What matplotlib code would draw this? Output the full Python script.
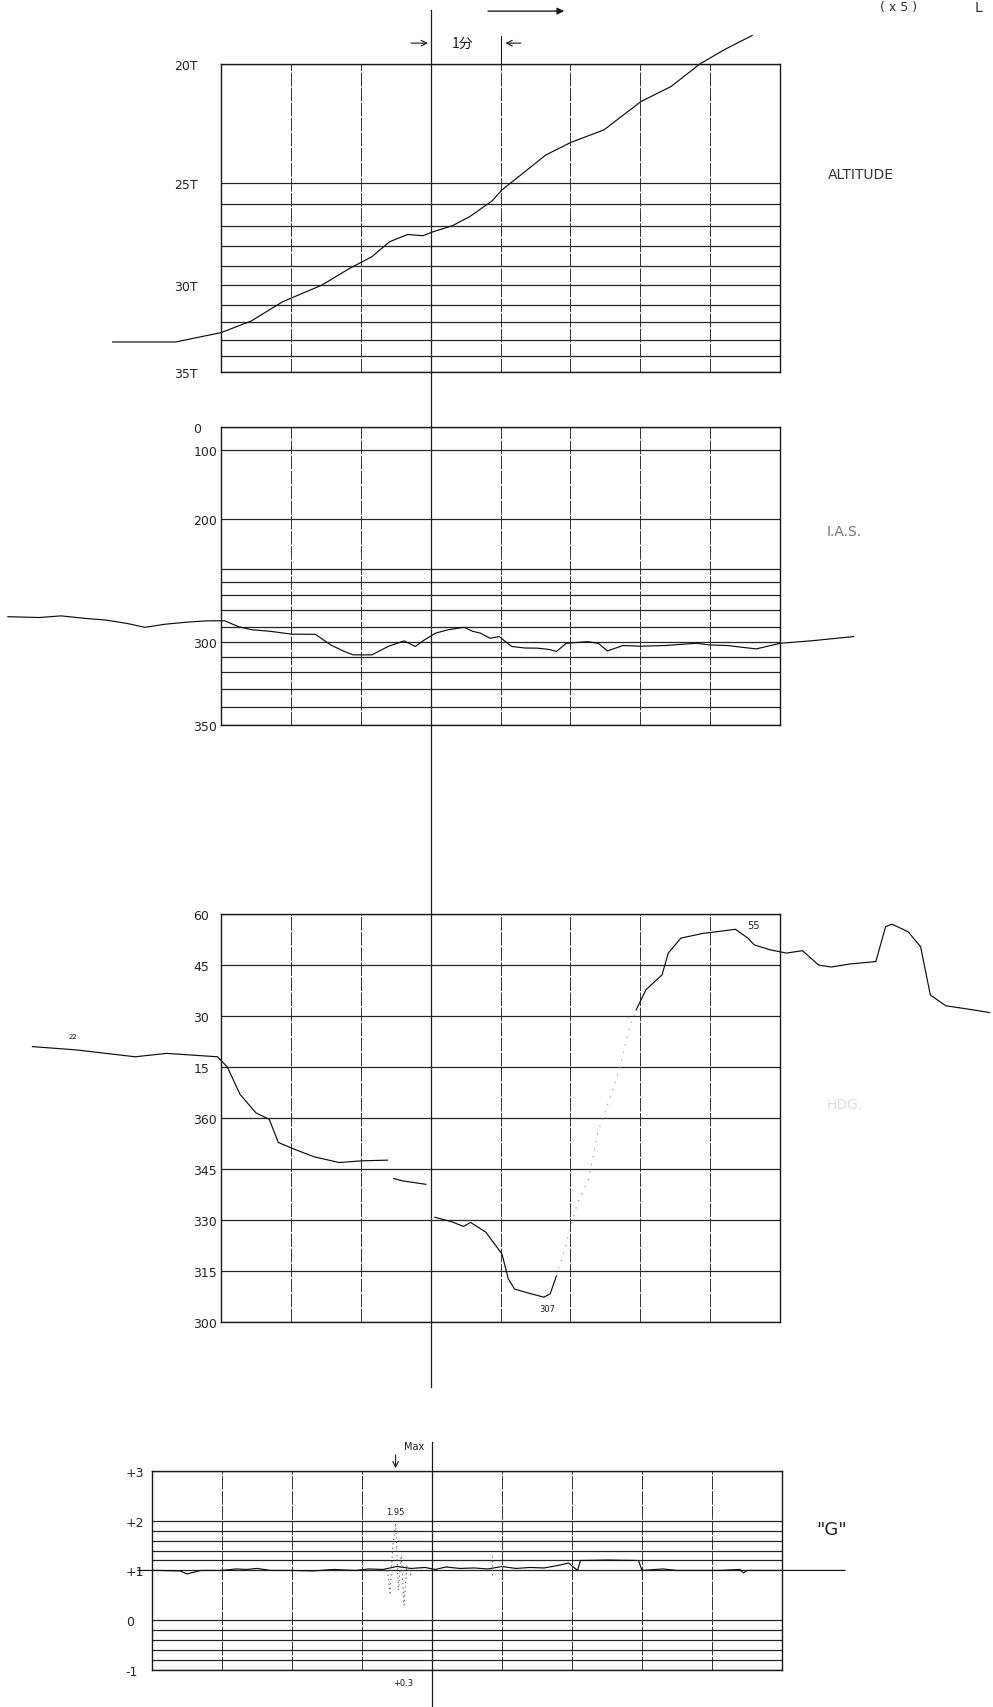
import numpy as np
import matplotlib.pyplot as plt
from matplotlib.ticker import NullLocator

plt.rcParams['font.family'] = ['DejaVu Sans', 'Noto Sans CJK JP']

# time axis: minutes, one grid column = 1 min, centre mark at t = 3

# altitude trace (thousand ft)
alt_t = [-1.55, -0.65, 0.0, 0.43, 0.88, 1.44, 1.84, 2.16, 2.41, 2.67, 2.89,
         3.03, 3.31, 3.56, 3.88, 4.02, 4.23, 4.65, 5.01, 5.48, 6.01, 6.44,
         6.85, 7.2, 7.6]
alt_v = [33.14, 33.14, 32.59, 31.92, 30.83, 30.0, 29.12, 28.53, 27.79, 27.43,
         27.49, 27.3, 27.0, 26.58, 25.85, 25.32, 24.79, 23.81, 23.28, 22.76,
         21.57, 20.94, 20.0, 19.4, 18.8]
alt_grid = [20, 25, 26, 27, 28, 29, 30, 31, 32, 33, 34, 35]
alt_labels = ['20T', '25T', '', '', '', '', '30T', '', '', '', '', '35T']
# recorder paper scale (distance from top, fraction of panel)
alt_pos = [0, .387, .454, .525, .591, .656, .718, .783, .839, .895, .948, 1.0]

# indicated airspeed (kt)
ias_t = [-3.05, -2.6, -2.29, -1.95, -1.65, -1.35, -1.09, -0.8, -0.47, -0.2,
         0.05, 0.25, 0.44, 0.7, 1.01, 1.35, 1.57, 1.75, 1.89, 2.16, 2.39,
         2.62, 2.78, 2.9, 3.07, 3.25, 3.48, 3.6, 3.71, 3.85, 3.98, 4.16, 4.35,
         4.53, 4.7, 4.8, 4.94, 5.25, 5.4, 5.53, 5.75, 6.0, 6.35, 6.8, 7.0,
         7.25, 7.45, 7.66, 8.0, 8.44, 9.05]
ias_v = [284, 284.5, 283.5, 285, 286, 288, 290.4, 288.5, 287.2, 286.5, 286.4,
         290, 292, 293, 294.9, 295, 302, 306, 308.5, 308.5, 303, 299.3, 303,
         299, 294.2, 292, 290.4, 293, 294.2, 297.6, 296.5, 303, 304, 304.1,
         305, 306.3, 300.9, 299.8, 301, 305.9, 302.4, 302.8, 302.4, 300.9,
         302, 302.4, 303.5, 304.6, 300.9, 299.3, 296.5]
ias_grid = [0, 100, 200, 250, 260, 270, 280, 290, 300, 310, 320, 330, 340, 350]
ias_labels = ['0', '100', '200', '', '', '', '', '', '300', '', '', '', '', '350']
ias_pos = [0, .077, .308, .476, .520, .565, .614, .670, .721, .772, .823,
           .879, .939, 1.0]

# magnetic heading (deg), recorded pieces
hdg_t1 = [-2.70, -2.06, -1.23, -0.78, -0.05, 0.09, 0.27, 0.50, 0.69, 0.82,
          1.05, 1.33, 1.69, 2.01, 2.38]
hdg_v1 = [21, 20, 18, 19, 18, 15, 7, 1.5, 359.6, 352.8, 350.8, 348.6, 346.9,
          347.4, 347.6]
hdg_t2 = [2.47, 2.6, 2.93]
hdg_v2 = [342.2, 341.5, 340.5]
hdg_t3 = [3.06, 3.3, 3.47, 3.57, 3.79, 4.02, 4.11, 4.2, 4.4, 4.62, 4.71, 4.80]
hdg_v3 = [330.8, 329.5, 328.1, 329.3, 326.4, 320, 312.7, 309.7, 308.5, 307.3,
          308.3, 313.6]
hdg_t4 = [4.80, 4.89, 5.1, 5.26, 5.39, 5.55, 5.67, 5.85, 5.94]
hdg_v4 = [313.6, 319.5, 335, 342, 355.7, 5, 12.3, 27, 31.8]
hdg_t5 = [5.94, 6.08, 6.31, 6.40, 6.58, 6.9, 7.1, 7.36, 7.54, 7.63, 7.85,
          8.09, 8.32, 8.55, 8.73, 9.0, 9.37, 9.51, 9.6, 9.83, 10.01, 10.15,
          10.37, 10.7, 11.0]
hdg_v5 = [31.8, 37.7, 42.1, 48.5, 52.9, 54.3, 54.8, 55.5, 52.9, 50.9, 49.5,
          48.5, 49.2, 45, 44.4, 45.3, 46, 56.3, 57, 54.8, 50.4, 36.2, 33, 32,
          31]
hdg_grid = [60, 45, 30, 15, 0, -15, -30, -45, -60]
hdg_labels = ['60', '45', '30', '15', '360', '345', '330', '315', '300']

# normal acceleration (G)
g_t = [-1.2, -0.9, -0.6, -0.5, -0.3, 0.0, 0.2, 0.35, 0.5, 0.7, 1.0, 1.3, 1.6,
       1.9, 2.1, 2.3, 2.5, 2.7, 2.9, 3.05, 3.2, 3.4, 3.6, 3.8, 4.0, 4.2, 4.4,
       4.6, 4.8, 4.95, 5.08, 5.12, 5.5, 5.95, 6.0, 6.3, 6.5, 6.8, 7.1, 7.4,
       7.45, 7.5, 7.8, 8.2, 8.9]
g_v = [1.0, 1.0, 0.99, 0.93, 1.0, 1.0, 1.03, 1.02, 1.04, 1.0, 1.0, 0.99, 1.02,
       1.0, 1.03, 1.02, 1.08, 1.04, 1.06, 1.02, 1.07, 1.04, 1.05, 1.03, 1.08,
       1.04, 1.06, 1.05, 1.1, 1.15, 1.0, 1.2, 1.21, 1.2, 1.0, 1.03, 1.0, 1.0,
       1.0, 1.02, 0.95, 1.0, 1.0, 1.0, 1.0]
g_spike_t = [2.36, 2.40, 2.44, 2.48, 2.52, 2.56, 2.60, 2.64, 2.70]
g_spike_v = [1.0, 0.55, 1.5, 1.95, 0.6, 1.3, 0.3, 1.1, 0.9]
g_spike2_t = [3.86, 3.86, 4.0, 4.0]
g_spike2_v = [1.3, 0.85, 2.1, 0.8]
g_grid = [3, 2, 1.8, 1.6, 1.4, 1.2, 1, 0, -0.2, -0.4, -0.6, -0.8, -1]
g_labels = ['+3', '+2', '', '', '', '', '+1', '0', '', '', '', '', '-1']


def interp_scale(vals, pos):
    vals = np.asarray(vals, float)
    pos = np.asarray(pos, float)

    def lin(x, xp, fp):
        x = np.asarray(x, float)
        y = np.interp(x, xp, fp)
        lo = (fp[1] - fp[0]) / (xp[1] - xp[0])
        hi = (fp[-1] - fp[-2]) / (xp[-1] - xp[-2])
        y = np.where(x < xp[0], fp[0] + (x - xp[0]) * lo, y)
        y = np.where(x > xp[-1], fp[-1] + (x - xp[-1]) * hi, y)
        return y
    return (lambda x: lin(x, vals, pos)), (lambda p: lin(p, pos, vals))


def unwrap(h):
    h = np.asarray(h, float)
    return np.where(h > 180, h - 360, h)


def style(ax, xlo, grid, labels, pad):
    ax.set_xlim(xlo, 8)
    ax.set_xticks(np.arange(xlo, 9))
    ax.set_xticklabels([])
    ax.set_yticks(grid)
    ax.set_yticklabels(labels)
    ax.yaxis.set_minor_locator(NullLocator())
    ax.tick_params(length=0, labelsize=9, pad=pad, colors='0.15')
    for lbl in ax.get_yticklabels():
        lbl.set_ha('left')
    ax.grid(axis='y', color='0.15', lw=0.9)
    ax.grid(axis='x', color='0.2', lw=0.7, ls=(0, (14, 1.5)))
    for sp in ax.spines.values():
        sp.set_linewidth(1.0)
        sp.set_color('0.1')


fig = plt.figure(figsize=(9.93, 17.08), dpi=100)
ax1 = fig.add_axes([0.2226, 0.7816, 0.563, 0.1803])
ax2 = fig.add_axes([0.2226, 0.5749, 0.563, 0.1745])
ax3 = fig.add_axes([0.2226, 0.2254, 0.563, 0.2389])
ax4 = fig.add_axes([0.1531, 0.0217, 0.6344, 0.1165])

trace = dict(color='0.05', lw=0.85, clip_on=False)

# altitude
ax1.set_yscale('function', functions=interp_scale(alt_grid, alt_pos))
ax1.set_ylim(35, 20)
style(ax1, 0, alt_grid, alt_labels, 34)
ax1.plot(alt_t, alt_v, **trace)
ax1.axvline(3, -0.179, 1.175, color='0.1', lw=0.9, clip_on=False)
ax1.text(1.086, 0.643, 'ALTITUDE', transform=ax1.transAxes, fontsize=10,
         color='0.2', va='center')
ax1.annotate('', xy=(4.95, 1.172), xytext=(3.78, 1.172),
             xycoords=('data', 'axes fraction'),
             arrowprops=dict(arrowstyle='-|>', color='0.1', lw=1.0))
ax1.annotate('', xy=(3.0, 1.068), xytext=(2.68, 1.068),
             xycoords=('data', 'axes fraction'),
             arrowprops=dict(arrowstyle='->', color='0.1', lw=0.8))
ax1.annotate('', xy=(4.03, 1.068), xytext=(4.33, 1.068),
             xycoords=('data', 'axes fraction'),
             arrowprops=dict(arrowstyle='->', color='0.1', lw=0.8))
ax1.plot([4, 4], [1.0, 1.09], color='0.1', lw=0.8, clip_on=False,
         transform=ax1.get_xaxis_transform())
ax1.text(3.45, 1.068, '1分', transform=ax1.get_xaxis_transform(),
         ha='center', va='center', fontsize=10, color='0.1',
         family=['Noto Sans CJK JP'])

# airspeed
ax2.set_yscale('function', functions=interp_scale(ias_grid, ias_pos))
ax2.set_ylim(350, 0)
style(ax2, 0, ias_grid, ias_labels, 20)
ax2.plot(ias_t, ias_v, **trace)
ax2.axvline(3, -0.634, 1.0, color='0.1', lw=0.9, clip_on=False)
ax2.text(1.084, 0.651, 'I.A.S.', transform=ax2.transAxes, fontsize=10,
         color='0.45', va='center')

# heading
ax3.set_ylim(-60, 60)
style(ax3, 0, hdg_grid, hdg_labels, 20)
ax3.plot(hdg_t1, unwrap(hdg_v1), **trace)
ax3.plot(hdg_t2, unwrap(hdg_v2), **trace)
ax3.plot(hdg_t3, unwrap(hdg_v3), **trace)
ax3.plot(hdg_t4, unwrap(hdg_v4), color='0.55', lw=0.8, ls=(0, (1, 6)),
         clip_on=False)
ax3.plot(hdg_t5, unwrap(hdg_v5), **trace)
ax3.axvline(3, -0.16, 1.0, color='0.1', lw=0.9, clip_on=False)
ax3.text(4.67, -56, '307', fontsize=6, ha='center', va='center', color='0.1')
ax3.text(7.62, 56.8, '55', fontsize=7, ha='center', va='center', color='0.1')
ax3.text(-2.12, 24, '22', fontsize=5, ha='center', va='center', color='0.1')
ax3.text(1.084, 0.534, 'HDG.', transform=ax3.transAxes, fontsize=10,
         color='#dcdcdc', va='center')

# G
ax4.set_ylim(-1, 3)
style(ax4, -1, g_grid, g_labels, 19)
ax4.plot(g_t, g_v, **trace)
ax4.plot(g_spike_t, g_spike_v, color='0.3', lw=0.8, ls=(0, (1, 3)),
         clip_on=False)
ax4.plot(g_spike2_t[:2], g_spike2_v[:2], color='0.3', lw=0.8, ls=(0, (1, 3)))
ax4.plot(g_spike2_t[2:], g_spike2_v[2:], color='0.3', lw=0.9, ls=(0, (2, 2)))
ax4.axvline(3, -0.186, 1.146, color='0.1', lw=0.9, clip_on=False)
ax4.annotate('', xy=(2.48, 3.0), xytext=(2.48, 3.38),
             arrowprops=dict(arrowstyle='->', color='0.1', lw=0.8),
             annotation_clip=False)
ax4.text(2.74, 3.5, 'Max', fontsize=7, ha='center', va='center', color='0.1')
ax4.text(2.48, 2.18, '1.95', fontsize=6, ha='center', va='center', color='0.1')
ax4.text(2.59, -1.25, '+0.3', fontsize=6, ha='center', va='center', color='0.1')
ax4.text(1.054, 0.709, '"G"', transform=ax4.transAxes, fontsize=13,
         color='0.15', va='center')

# page header at the top edge
fig.text(0.905, 0.9995, '( x 5 )', fontsize=9, ha='center', va='top',
         color='0.2')
fig.text(0.985, 0.9995, 'L', fontsize=10, ha='center', va='top', color='0.2')

fig.savefig('out.png', dpi=100)
